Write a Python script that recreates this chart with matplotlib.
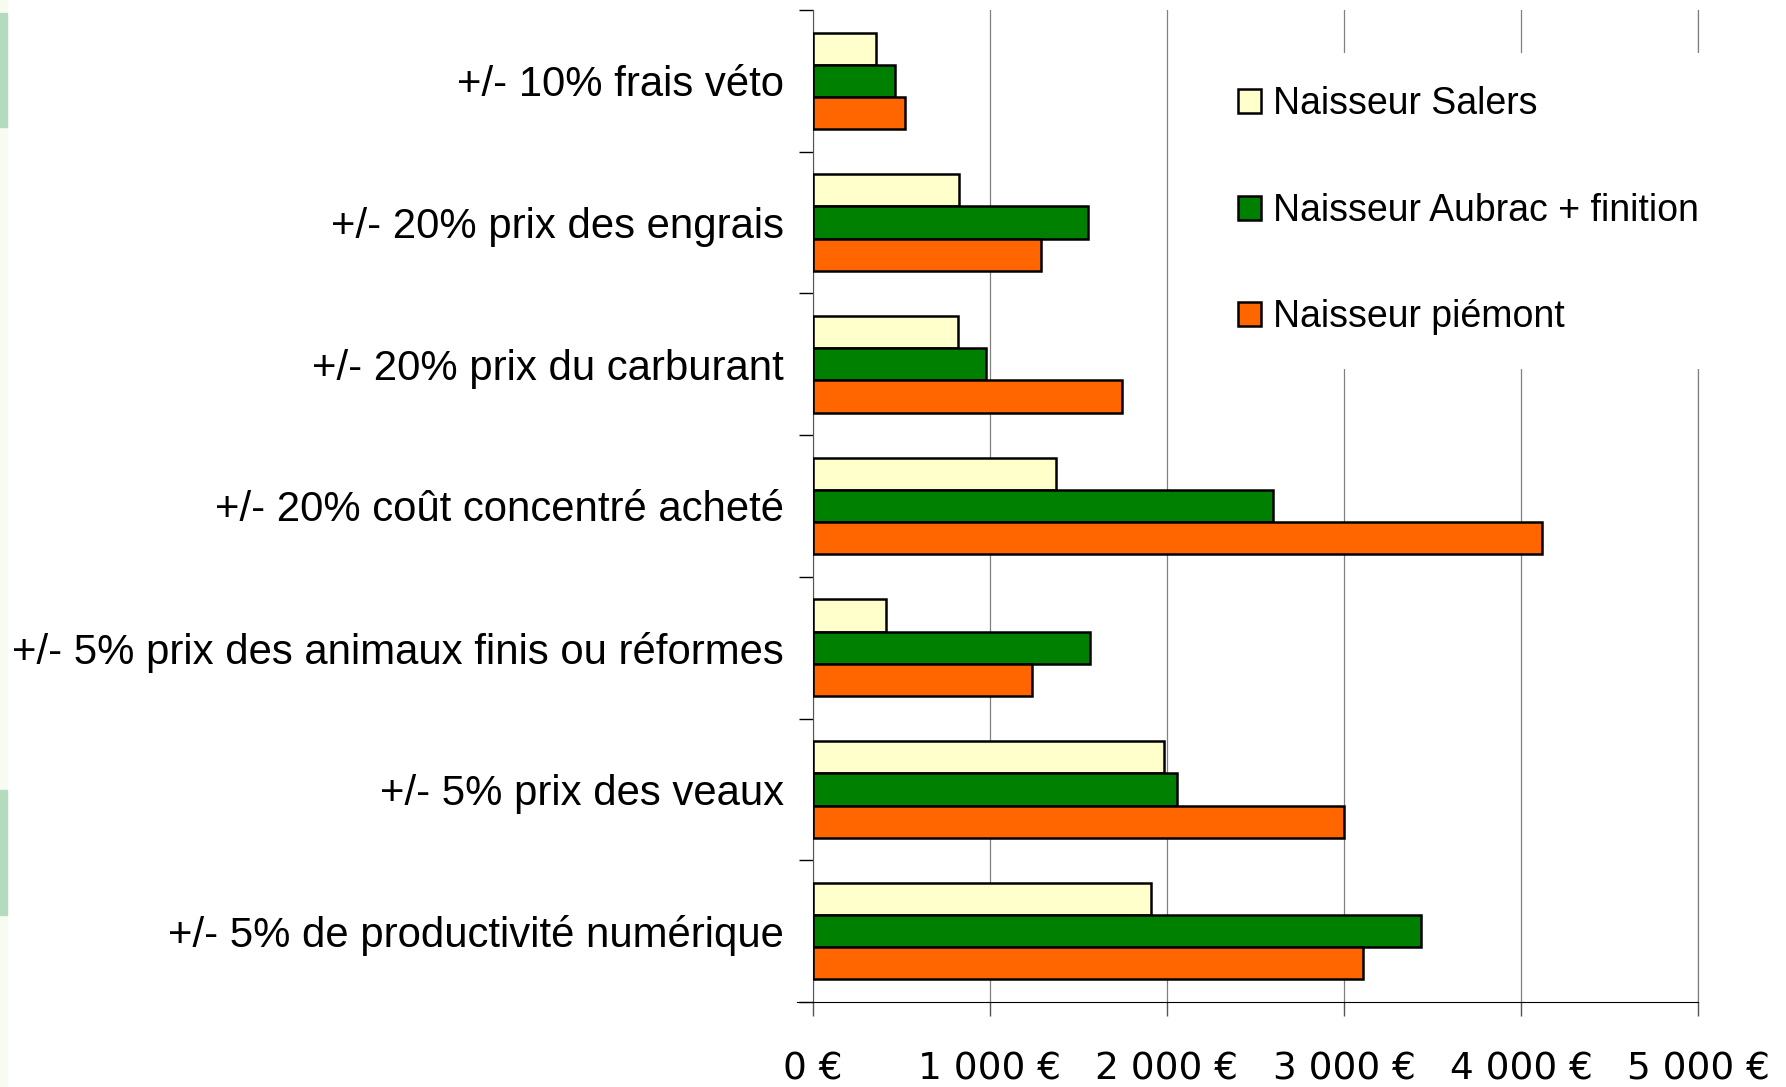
import matplotlib.pyplot as plt
import matplotlib.patches as mpatches
import numpy as np

plt.rcParams['font.family'] = ['Liberation Sans', 'DejaVu Sans']

categories = [
    "+/- 10% frais véto",
    "+/- 20% prix des engrais",
    "+/- 20% prix du carburant",
    "+/- 20% coût concentré acheté",
    "+/- 5% prix des animaux finis ou réformes",
    "+/- 5% prix des veaux",
    "+/- 5% de productivité numérique",
]
series_names = ["Naisseur Salers", "Naisseur Aubrac + finition", "Naisseur piémont"]
salers = [354, 824, 817, 1371, 412, 1982, 1911]
aubrac = [463, 1551, 978, 2600, 1564, 2059, 3436]
piemont = [521, 1287, 1744, 4118, 1236, 2999, 3108]
x_ticks = [0, 1000, 2000, 3000, 4000, 5000]
x_tick_labels = ["0 €", "1 000 €", "2 000 €", "3 000 €", "4 000 €", "5 000 €"]

colors = ["#FFFFCC", "#008000", "#FF6600"]

fig = plt.figure(figsize=(17.86, 10.87), dpi=100)
ax = fig.add_axes([0.4552, 0.0782, 0.4955, 0.9126])

# slide decoration on the left border
fig.patches.append(mpatches.Rectangle((0, 0), 7 / 1786, 1, transform=fig.transFigure,
                                      color="#f8fbf2", zorder=0))
for y0, y1 in [(13, 127), (790, 915)]:
    fig.patches.append(mpatches.Rectangle((0, 1 - y1 / 1087), 7 / 1786, (y1 - y0) / 1087,
                                          transform=fig.transFigure, color="#b5dbbe", zorder=1))

y = np.arange(len(categories))
h = 0.227
for i, (vals, name) in enumerate(zip([salers, aubrac, piemont], series_names)):
    ax.barh(y + (i - 1) * h, vals, height=h, color=colors[i], edgecolor="black",
            linewidth=1.8, label=name, zorder=3)

ax.set_ylim(len(categories) - 0.5, -0.5)
ax.set_xlim(0, 5000)

ax.set_yticks(y)
ax.set_yticklabels(categories, fontsize=30.2)
ax.set_yticks(np.arange(len(categories) + 1) - 0.5, minor=True)
ax.tick_params(axis="y", which="major", length=0, pad=21)
ax.tick_params(axis="y", which="minor", length=10, width=1, color="black")

ax.set_xticks(x_ticks)
ax.set_xticklabels(x_tick_labels, fontsize=27, family="DejaVu Sans")
ax.tick_params(axis="x", length=10, width=1, color="#555555", pad=26)

ax.grid(axis="x", color="#808080", linewidth=0.9, zorder=0)
ax.axvline(5000, color="#808080", linewidth=0.9, zorder=0, clip_on=False)
ax.set_axisbelow(True)
for s in ["top", "right"]:
    ax.spines[s].set_visible(False)
ax.spines["left"].set_color("#555555")
ax.spines["bottom"].set_color("black")
ax.spines["bottom"].set_bounds(-90, 5000)

leg = fig.legend(loc="upper left", bbox_to_anchor=(0.674, 0.9516), fontsize=27,
                 frameon=True, facecolor="white", edgecolor="none", framealpha=1,
                 fancybox=False, borderpad=0.9, borderaxespad=0,
                 handlelength=0.62, handleheight=0.62, handletextpad=0.33,
                 labelspacing=1.88)
leg.set_zorder(5)

fig.savefig("out.png", dpi=100)
